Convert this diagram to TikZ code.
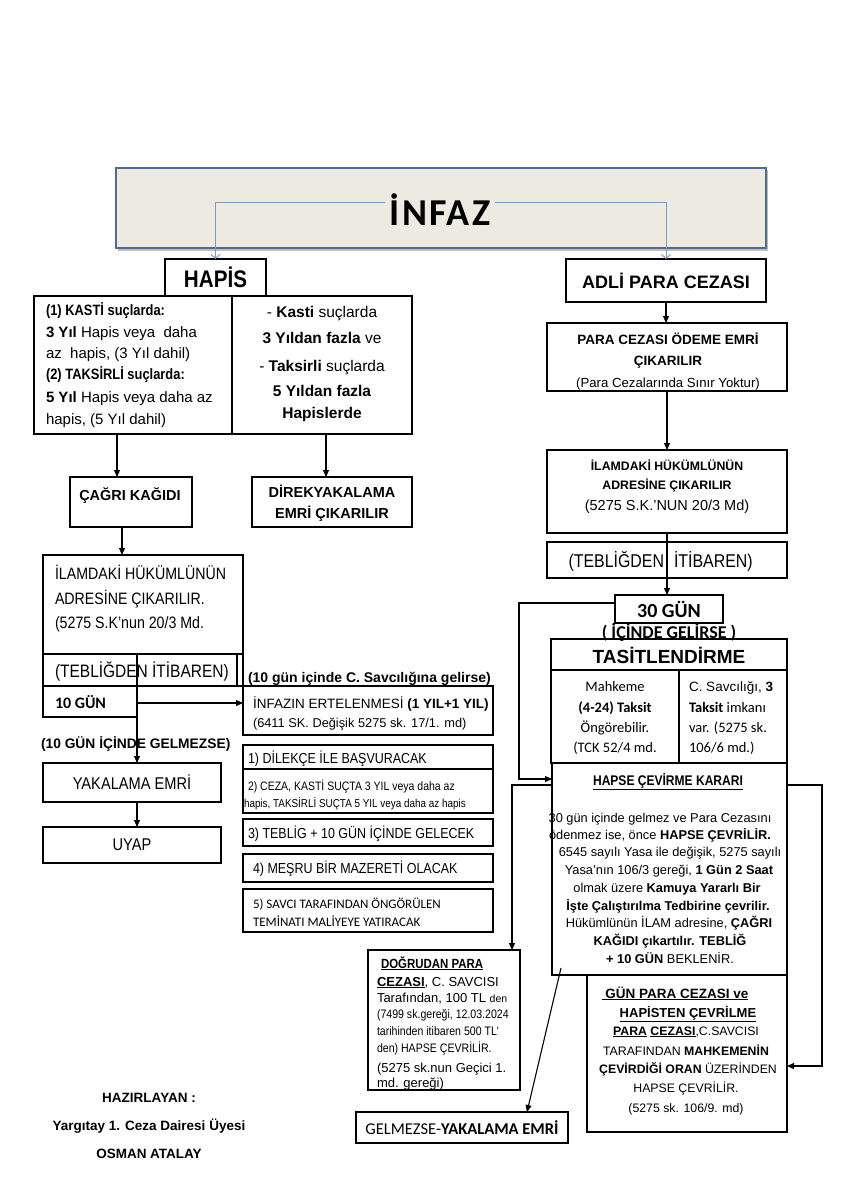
\documentclass[tikz,border=0pt]{standalone}
\usepackage{fontspec}
\setmainfont{Liberation Sans}
\newfontfamily\nar[FakeStretch=0.86]{Liberation Sans}
\newfontfamily\calf{Carlito}
\newfontfamily\calsp[LetterSpace=6]{Carlito}
\usetikzlibrary{arrows.meta}
\definecolor{infazbg}{HTML}{EDEAE2}
\definecolor{infazbd}{HTML}{4F6B91}
\definecolor{linkblue}{HTML}{7D9BC1}
\newcommand\fsz[1]{\fontsize{#1}{#1}\selectfont}
\newcounter{tn}
\newcommand\tline[4][]{\stepcounter{tn}\node[txt,#1] (t\arabic{tn}) at (#2,#3) {#4};}
\newcommand\mybox[7][]{\node[box,minimum width={#5pt-#3pt},minimum height={#6pt-#4pt},#1] (#2) at (#3,#4) {#7};}
\begin{document}
\begin{tikzpicture}[x=1pt,y=-1pt,
  box/.style={draw=black,line width=1.1pt,fill=white,inner sep=0pt,outer sep=0pt,anchor=north west,align=center},
  txt/.style={inner sep=0pt,outer sep=0pt,align=center,anchor=base},
  arr/.style={line width=1.1pt,-{Triangle[length=7pt,width=6pt]}},
  ln/.style={line width=1.1pt},
  bluearr/.style={draw=linkblue,line width=0.9pt,-{Straight Barb[length=4pt,width=9pt]}}]
\useasboundingbox (0,0) rectangle (867,1200);
\fill[white] (0,0) rectangle (867,1200);

% ---------- top ----------
\fill[black!25] (118,170) rectangle (768,251);
\node[draw=infazbd,fill=infazbg,line width=1.8pt,anchor=north west,minimum width=650pt,minimum height=80pt,inner sep=0pt] (infazbox) at (115,167) {};
\node[font=\calsp\bfseries\fsz{38},inner sep=4pt] (tinfaz) at (440,210) {İNFAZ};
\mybox[font=\nar\bfseries\fsz{24}]{hapis}{165}{259}{266}{296}{HAPİS}
\mybox[font=\bfseries\fsz{18}]{adli}{566}{259}{766}{302}{ADLİ PARA CEZASI}
\draw[bluearr] ([yshift=8pt]tinfaz.west) -| (hapis.north);
\draw[bluearr] ([yshift=8pt]tinfaz.east) -| (adli.north);

% ---------- left column ----------
\mybox{tbl}{34}{296}{412}{434}{}
\coordinate (dv) at (232,296);
\draw[ln] (dv) -- (dv |- tbl.south);
\tline[anchor=base west,font=\nar\bfseries\fsz{15}]{46}{315}{(1) KASTİ suçlarda:}
\tline[anchor=base west,font=\fsz{15}]{46}{337}{\textbf{3 Yıl} Hapis veya \ daha}
\tline[anchor=base west,font=\fsz{15}]{46}{358}{az \ hapis, (3 Yıl dahil)}
\tline[anchor=base west,font=\nar\bfseries\fsz{15}]{46}{379}{(2) TAKSİRLİ suçlarda:}
\tline[anchor=base west,font=\fsz{15}]{46}{402}{\textbf{5 Yıl} Hapis veya daha az}
\tline[anchor=base west,font=\fsz{15}]{46}{424}{hapis, (5 Yıl dahil)}
\tline[font=\fsz{15.5}]{322}{317}{- \textbf{Kasti} suçlarda}
\tline[font=\fsz{15.5}]{322}{343}{\textbf{3 Yıldan fazla} ve}
\tline[font=\fsz{15.5}]{322}{371}{- \textbf{Taksirli} suçlarda}
\tline[font=\bfseries\fsz{15.5}]{322}{396}{5 Yıldan fazla}
\tline[font=\bfseries\fsz{15.5}]{322}{418}{Hapislerde}

\mybox{cagri}{70}{477}{192}{527}{}
\tline[font=\bfseries\fsz{14.5}]{130}{500}{ÇAĞRI KAĞIDI}
\mybox{direk}{252}{477}{412}{527}{}
\tline[font=\bfseries\fsz{14.5}]{332}{497}{DİREKYAKALAMA}
\tline[font=\bfseries\fsz{14.5}]{332}{518}{EMRİ ÇIKARILIR}
\coordinate (a1) at (117,434);
\draw[arr] (a1) -- (a1 |- cagri.north);
\coordinate (a1r) at (326,434);
\draw[arr] (a1r) -- (a1r |- direk.north);

\mybox{ilaml}{43}{555}{243}{686}{}
\draw[ln] (43,654) -- (243,654);
\draw[ln] (237,654) -- (237,686);
\coordinate (a2) at (122,527);
\draw[arr] (a2) -- (a2 |- ilaml.north);
\tline[anchor=base west,font=\nar\fsz{16.5}]{55}{579}{İLAMDAKİ HÜKÜMLÜNÜN}
\tline[anchor=base west,font=\nar\fsz{16.5}]{55}{604}{ADRESİNE ÇIKARILIR.}
\tline[anchor=base west,font=\nar\fsz{16.5}]{55}{628}{(5275 S.K’nun 20/3 Md.}
\tline[anchor=base west,font=\nar\fsz{18}]{55}{677}{(TEBLİĞDEN İTİBAREN)}
\mybox{g10}{43}{686}{137}{717}{}
\tline[anchor=base west,font=\calf\bfseries\fsz{16}]{55}{708}{10 GÜN}
\mybox{inferl}{243}{686}{493}{735}{}
\tline[anchor=base west,font=\bfseries\fsz{14}]{248}{682}{(10 gün içinde C. Savcılığına gelirse)}
\tline[anchor=base west,font=\fsz{13.5}]{253}{708}{İNFAZIN ERTELENMESİ \textbf{(1 YIL+1 YIL)}}
\tline[anchor=base west,font=\fsz{12.8}]{253}{727}{(6411 SK. Değişik 5275 sk. 17/1. md)}
\tline[anchor=base west,font=\bfseries\fsz{13.8}]{41}{748}{(10 GÜN İÇİNDE GELMEZSE)}

\mybox[font=\nar\fsz{17}]{yak}{43}{763}{221}{802}{YAKALAMA EMRİ}
\mybox[font=\nar\fsz{17}]{uyap}{43}{827}{221}{863}{UYAP}
\coordinate (vtop) at (137,654);
\draw[arr] (vtop) -- (vtop |- yak.north);
\coordinate (g10r) at (137,703);
\draw[arr] (g10r) -- (g10r -| inferl.west);
\coordinate (a3) at (137,802);
\draw[arr] (a3) -- (a3 |- uyap.north);

\mybox{li1}{243}{745}{493}{769}{}
\mybox{li2}{243}{769}{493}{813}{}
\mybox{li3}{243}{819}{493}{846}{}
\mybox{li4}{243}{854}{493}{882}{}
\mybox{li5}{243}{889}{493}{932}{}
\tline[anchor=base west,font=\nar\fsz{14.5}]{248}{763}{1) DİLEKÇE İLE BAŞVURACAK}
\tline[anchor=base west,font=\nar\fsz{12.2}]{248}{790}{2) CEZA, KASTİ SUÇTA 3 YIL veya daha az}
\tline[anchor=base west,font=\nar\fsz{11.5}]{244}{807}{hapis, TAKSİRLİ SUÇTA 5 YIL veya daha az hapis}
\tline[anchor=base west,font=\nar\fsz{14.5}]{248}{838}{3) TEBLİG + 10 GÜN İÇİNDE GELECEK}
\tline[anchor=base west,font=\nar\fsz{14.5}]{253}{873}{4) MEŞRU BİR MAZERETİ OLACAK}
\tline[anchor=base west,font=\calf\fsz{13}]{253}{908}{5) SAVCI TARAFINDAN ÖNGÖRÜLEN}
\tline[anchor=base west,font=\calf\fsz{13}]{253}{926}{TEMİNATI MALİYEYE YATIRACAK}

% ---------- right column ----------
\mybox{para}{547}{323}{787}{391}{}
\tline[font=\bfseries\fsz{13.5}]{668}{344}{PARA CEZASI ÖDEME EMRİ}
\tline[font=\bfseries\fsz{13.5}]{668}{365}{ÇIKARILIR}
\tline[font=\fsz{13.2}]{668}{387}{(Para Cezalarında Sınır Yoktur)}
\draw[arr] (adli.south) -- (adli.south |- para.north);

\mybox{ilamr}{547}{450}{787}{533}{}
\tline[font=\bfseries\fsz{12.3}]{667}{470}{İLAMDAKİ HÜKÜMLÜNÜN}
\tline[font=\bfseries\fsz{12.3}]{667}{489}{ADRESİNE ÇIKARILIR}
\tline[font=\fsz{14.5}]{667}{510}{(5275 S.K.’NUN 20/3 Md)}
\draw[arr] (para.south) -- (para.south |- ilamr.north);

\mybox[fill=none]{tebr}{547}{542}{787}{578}{}
\tline[anchor=base east,font=\nar\fsz{18.5}]{664}{567}{(TEBLİĞDEN}
\tline[anchor=base west,font=\nar\fsz{18.5}]{674}{567}{İTİBAREN)}

\mybox[font=\calf\bfseries\fsz{20}]{g30}{615}{595}{723}{623}{30 GÜN}
\draw[arr] (ilamr.south) -- (ilamr.south |- g30.north);

\mybox{tas}{551}{639}{787}{763}{}
\draw[ln] (551,670) -- (787,670);
\draw[ln] (679,670) -- (679,763);
\tline[font=\calf\bfseries\fsz{18}]{669}{638}{( İÇİNDE GELİRSE )}
\tline[font=\bfseries\fsz{19}]{669}{663}{TASİTLENDİRME}
\tline[font=\calf\fsz{14.5}]{615}{691}{Mahkeme}
\tline[font=\calf\bfseries\fsz{14.5}]{615}{712}{(4-24) Taksit}
\tline[font=\calf\fsz{14.5}]{615}{732}{Öngörebilir.}
\tline[font=\calf\fsz{14.5}]{615}{752}{(TCK 52/4 md.}
\tline[anchor=base west,font=\fsz{13.5}]{689}{691}{C. Savcılığı, \textbf{3}}
\tline[anchor=base west,font=\calf\fsz{14.5}]{689}{712}{\textbf{Taksit} imkanı}
\tline[anchor=base west,font=\calf\fsz{14.5}]{689}{732}{var. (5275 sk.}
\tline[anchor=base west,font=\calf\fsz{14.5}]{689}{752}{106/6 md.)}

\mybox{hapse}{552}{763}{787}{975}{}
\tline[font=\nar\bfseries\fsz{14}]{668}{785}{\underline{HAPSE ÇEVİRME KARARI}}
\tline[font=\fsz{12.8}]{660}{822}{30 gün içinde gelmez ve Para Cezasını}
\tline[font=\fsz{12.8}]{660}{839}{ödenmez ise, önce \textbf{HAPSE ÇEVRİLİR.}}
\tline[font=\fsz{12.8}]{670}{856}{6545 sayılı Yasa ile değişik, 5275 sayılı}
\tline[font=\fsz{12.8}]{669}{874}{Yasa’nın 106/3 gereği, \textbf{1 Gün 2 Saat}}
\tline[font=\fsz{12.8}]{667}{892}{olmak üzere \textbf{Kamuya Yararlı Bir}}
\tline[font=\bfseries\fsz{12.8}]{668}{910}{İşte Çalıştırılma Tedbirine çevrilir.}
\tline[font=\fsz{12.8}]{669}{927}{Hükümlünün İLAM adresine, \textbf{ÇAĞRI}}
\tline[font=\bfseries\fsz{12.8}]{670}{945}{KAĞIDI çıkartılır. TEBLİĞ}
\tline[font=\fsz{12.8}]{670}{963}{\textbf{+ 10 GÜN} BEKLENİR.}

\coordinate (c30) at (615,603);
\coordinate (cx519) at (519,0);
\coordinate (lev2) at (0,779);
\draw[arr] (c30) -- (c30 -| cx519) |- (hapse.west |- lev2);

\mybox{dog}{368}{950}{520}{1090}{}
\tline[anchor=base west,font=\nar\bfseries\fsz{13.3}]{381}{968}{\underline{DOĞRUDAN PARA}}
\tline[anchor=base west,font=\fsz{13}]{377}{986}{\underline{\textbf{CEZASI}}, C. SAVCISI}
\tline[anchor=base west,font=\fsz{13}]{377}{1002}{Tarafından, 100 TL {\fsz{10.5}den}}
\tline[anchor=base west,font=\nar\fsz{12.3}]{377}{1018}{(7499 sk.gereği, 12.03.2024}
\tline[anchor=base west,font=\nar\fsz{12.3}]{377}{1035}{tarihinden itibaren 500 TL'}
\tline[anchor=base west,font=\nar\fsz{12.3}]{377}{1052}{den) HAPSE ÇEVRİLİR.}
\tline[anchor=base west,font=\fsz{13}]{377}{1072}{(5275 sk.nun Geçici 1.}
\tline[anchor=base west,font=\fsz{13}]{377}{1087}{md. gereği)}

\mybox{gun}{587}{975}{787}{1132}{}
\tline[font=\bfseries\fsz{13.5}]{675}{998}{\underline{\ GÜN PARA CEZASI ve}}
\tline[font=\bfseries\fsz{13}]{688}{1017}{\underline{HAPİSTEN ÇEVRİLME}}
\tline[font=\fsz{12.3}]{686}{1035}{\textbf{\underline{PARA} \underline{CEZASI}},C.SAVCISI}
\tline[font=\fsz{12.3}]{686}{1055}{TARAFINDAN \textbf{MAHKEMENİN}}
\tline[font=\fsz{12.3}]{688}{1073}{\textbf{ÇEVİRDİĞİ ORAN} ÜZERİNDEN}
\tline[font=\fsz{12.3}]{686}{1092}{HAPSE ÇEVRİLİR.}
\tline[font=\fsz{12.3}]{686}{1112}{(5275 sk. 106/9. md)}

\mybox[font=\calf\fsz{16.5}]{gelm}{356}{1112}{568}{1143}{GELMEZSE-\textbf{YAKALAMA EMRİ}}

\coordinate (lev) at (0,785);
\coordinate (cx512) at (512,0);
\coordinate (lev3) at (0,1066);
\draw[arr] (hapse.west |- lev) -| (cx512 |- dog.north);
\draw[arr] (hapse.east |- lev) -- ++(35,0) |- (gun.east |- lev3);
\coordinate (ds) at (561,968);
\coordinate (de) at (527,1112);
\draw[arr] (ds) -- (de);

% ---------- footer ----------
\tline[font=\bfseries\fsz{13.5}]{149}{1102}{HAZIRLAYAN :}
\tline[font=\bfseries\fsz{13.5}]{149}{1130}{Yargıtay 1. Ceza Dairesi Üyesi}
\tline[font=\bfseries\fsz{13.5}]{149}{1158}{OSMAN ATALAY}
\end{tikzpicture}
\end{document}
